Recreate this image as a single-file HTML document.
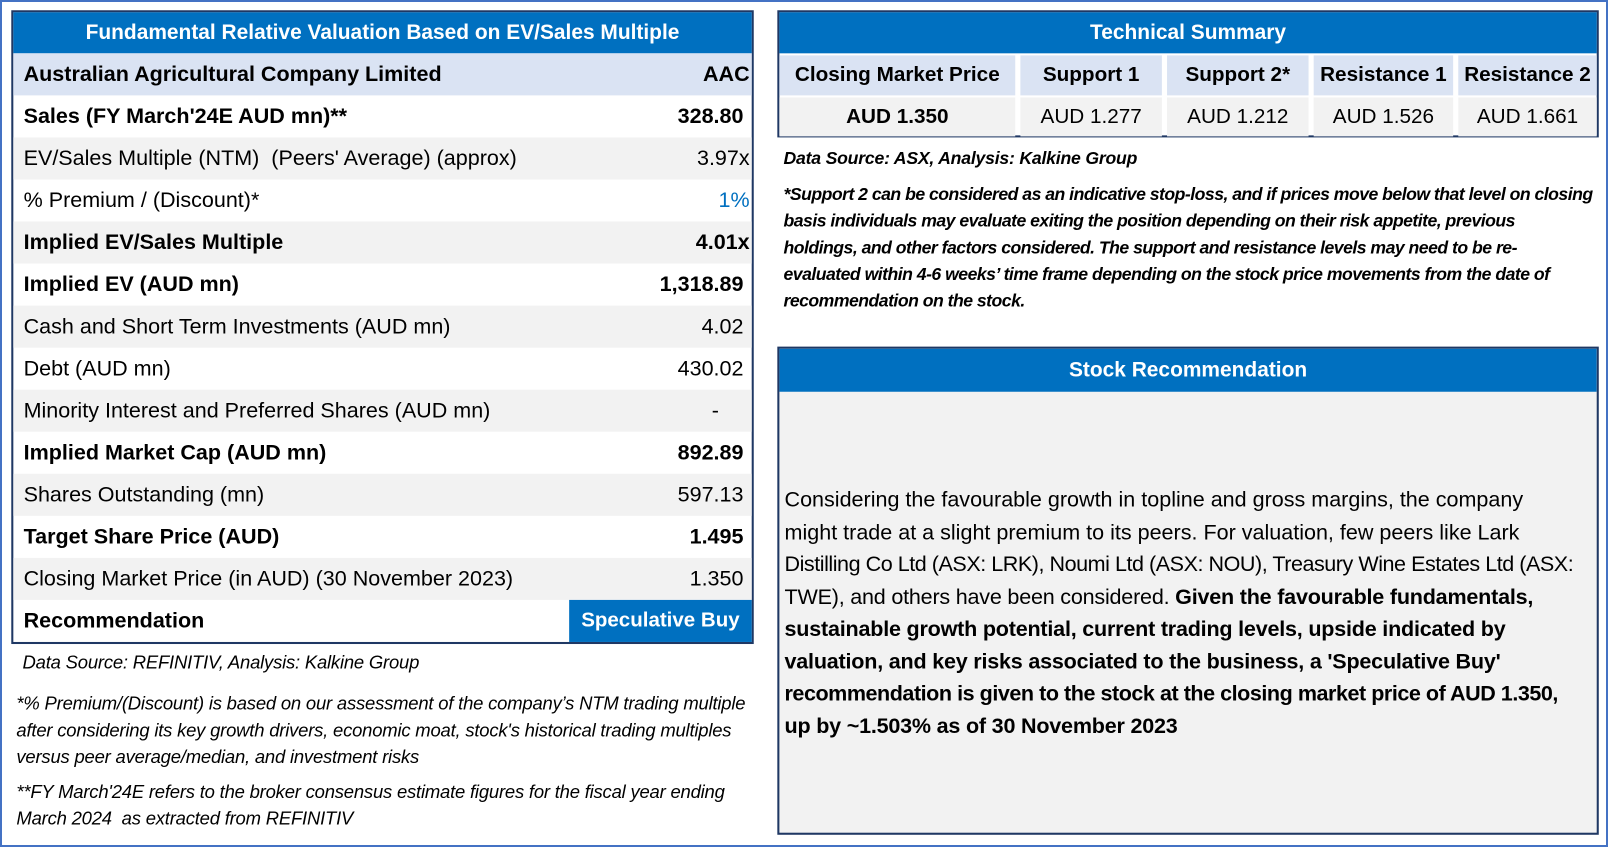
<!DOCTYPE html>
<html><head><meta charset="utf-8"><style>
*{margin:0;padding:0;box-sizing:border-box}
body{width:1608px;height:847px;background:#fff;font-family:"Liberation Sans",sans-serif;position:relative;overflow:hidden;color:#000}
.frame{position:absolute;left:0;top:0;width:1608px;height:847px;border:2px solid #4472c4}
.wrap{position:absolute;left:0;top:0;width:1568px;height:826px;transform:scale(1.02551);transform-origin:0 0}
.abs{position:absolute;white-space:nowrap}
.lt{position:absolute;left:11px;top:10px;width:724px;height:618px;border:2px solid #1f3864;background:#fff}
.tb{background:#0070c0;color:#fff;font-weight:bold;text-align:center}
.row{position:absolute;left:0;width:720px;height:41px;font-size:21px;line-height:41px;padding:0 10px;white-space:nowrap}
.row .v{position:absolute;right:8px;top:0}
.g{background:#f2f2f2}
.b{font-weight:bold}
.it{font-style:italic;font-size:18px;letter-spacing:-0.2px}
.sr div{white-space:nowrap}
</style></head><body>
<div class="frame"></div>
<div class="wrap">
<div class="lt">
 <div class="row tb" style="top:0;height:40px;line-height:40px;font-size:20.4px">Fundamental Relative Valuation Based on EV/Sales Multiple</div>
 <div class="row b" style="top:40px;background:#dae3f3">Australian Agricultural Company Limited<span class="v" style="right:2px">AAC</span></div>
 <div class="row b" style="top:81px">Sales (FY March'24E AUD mn)**<span class="v">328.80</span></div>
 <div class="row g" style="top:122px">EV/Sales Multiple (NTM)&nbsp; (Peers' Average) (approx)<span class="v" style="right:2px">3.97x</span></div>
 <div class="row" style="top:163px">% Premium / (Discount)*<span class="v" style="right:2px;color:#0070c0">1%</span></div>
 <div class="row g b" style="top:204px">Implied EV/Sales Multiple<span class="v" style="right:2px">4.01x</span></div>
 <div class="row b" style="top:245px">Implied EV (AUD mn)<span class="v">1,318.89</span></div>
 <div class="row g" style="top:286px">Cash and Short Term Investments (AUD mn)<span class="v">4.02</span></div>
 <div class="row" style="top:327px">Debt (AUD mn)<span class="v">430.02</span></div>
 <div class="row g" style="top:368px">Minority Interest and Preferred Shares (AUD mn)<span class="v" style="right:32px">-</span></div>
 <div class="row b" style="top:409px">Implied Market Cap (AUD mn)<span class="v">892.89</span></div>
 <div class="row g" style="top:450px">Shares Outstanding (mn)<span class="v">597.13</span></div>
 <div class="row b" style="top:491px">Target Share Price (AUD)<span class="v">1.495</span></div>
 <div class="row g" style="top:532px">Closing Market Price (in AUD) (30 November 2023)<span class="v">1.350</span></div>
 <div class="row b" style="top:573px">Recommendation<span class="v tb" style="right:0;width:178px;height:41px;font-size:20px">Speculative Buy</span></div>
</div>
<div class="abs it" style="left:22px;top:636px">Data Source: REFINITIV, Analysis: Kalkine Group</div>
<div class="abs it" style="left:16px;top:673px;line-height:26px">*% Premium/(Discount) is based on our assessment of the company’s NTM trading multiple<br>after considering its key growth drivers, economic moat, stock's historical trading multiples<br>versus peer average/median, and investment risks</div>
<div class="abs it" style="left:16px;top:759px;line-height:26px">**FY March'24E refers to the broker consensus estimate figures for the fiscal year ending<br>March 2024&nbsp; as extracted from REFINITIV</div>

<div style="position:absolute;left:758px;top:10px;width:801px;height:124px;border:2px solid #1f3864;background:#fff">
 <div class="tb" style="position:absolute;left:0;top:0;width:797px;height:40px;line-height:40px;font-size:20.4px">Technical Summary</div>
 <div style="position:absolute;top:42px;left:0;width:797px;font-size:20.2px;line-height:39px">
  <div class="abs b" style="left:0;width:230px;height:39px;background:#dae3f3;text-align:center">Closing Market Price</div>
  <div class="abs b" style="left:235px;width:138px;height:39px;background:#dae3f3;text-align:center">Support 1</div>
  <div class="abs b" style="left:378px;width:138px;height:39px;background:#dae3f3;text-align:center">Support 2*</div>
  <div class="abs b" style="left:521px;width:136px;height:39px;background:#dae3f3;text-align:center">Resistance 1</div>
  <div class="abs b" style="left:662px;width:135px;height:39px;background:#dae3f3;text-align:center">Resistance 2</div>
  <div class="abs b" style="top:41px;left:0;width:230px;height:38px;background:#f2f2f2;text-align:center">AUD 1.350</div>
  <div class="abs" style="top:41px;left:235px;width:138px;height:38px;background:#f2f2f2;text-align:center">AUD 1.277</div>
  <div class="abs" style="top:41px;left:378px;width:138px;height:38px;background:#f2f2f2;text-align:center">AUD 1.212</div>
  <div class="abs" style="top:41px;left:521px;width:136px;height:38px;background:#f2f2f2;text-align:center">AUD 1.526</div>
  <div class="abs" style="top:41px;left:662px;width:135px;height:38px;background:#f2f2f2;text-align:center">AUD 1.661</div>
 </div>
</div>
<div class="abs it b" style="left:764px;top:144px;font-size:17.2px">Data Source: ASX, Analysis: Kalkine Group</div>
<div class="abs it b" style="left:764px;top:176px;line-height:26px;font-size:17.2px;letter-spacing:-0.5px">*Support 2 can be considered as an indicative stop-loss, and if prices move below that level on closing<br>basis individuals may evaluate exiting the position depending on their risk appetite, previous<br>holdings, and other factors considered. The support and resistance levels may need to be re-<br>evaluated within 4-6 weeks’ time frame depending on the stock price movements from the date of<br>recommendation on the stock.</div>

<div style="position:absolute;left:758px;top:338px;width:801px;height:476px;border:2px solid #1f3864;background:#f2f2f2;overflow:hidden">
 <div class="tb" style="position:absolute;left:0;top:0;width:797px;height:42px;line-height:42px;font-size:20.4px">Stock Recommendation</div>
 <div class="abs sr" style="left:5px;top:132px;font-size:21px;line-height:31.5px">
  <div>Considering the favourable growth in topline and gross margins, the company</div>
  <div>might trade at a slight premium to its peers. For valuation, few peers like Lark</div>
  <div style="letter-spacing:-0.45px">Distilling Co Ltd (ASX: LRK), Noumi Ltd (ASX: NOU), Treasury Wine Estates Ltd (ASX:</div>
  <div style="letter-spacing:-0.2px">TWE), and others have been considered. <b>Given the favourable fundamentals,</b></div>
  <div style="letter-spacing:-0.2px"><b>sustainable growth potential, current trading levels, upside indicated by</b></div>
  <div style="letter-spacing:-0.2px"><b>valuation, and key risks associated to the business, a 'Speculative Buy'</b></div>
  <div style="letter-spacing:-0.45px"><b>recommendation is given to the stock at the closing market price of AUD 1.350,</b></div>
  <div style="letter-spacing:-0.2px"><b>up by ~1.503% as of 30 November 2023</b></div>
 </div>
</div>
</div>
</body></html>
